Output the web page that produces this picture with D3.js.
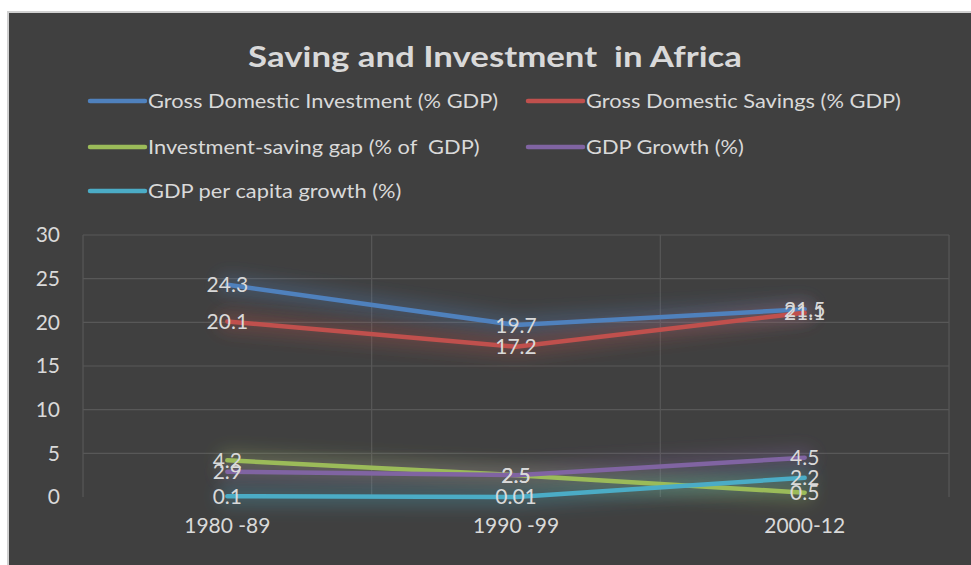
<!DOCTYPE html>
<html>
<head>
<meta charset="utf-8">
<script src="https://cdn.jsdelivr.net/npm/d3@7"></script>
<style>
  body { margin: 0; background: #ffffff; }
  svg { display: block; }
  text { font-family: Lato, "Open Sans", sans-serif; white-space: pre; }
</style>
</head>
<body>
<svg id="chart" width="971" height="565"></svg>
<script>
// chart data
const periods = ["1980 -89", "1990 -99", "2000-12"];
const investment = [24.3, 19.7, 21.5];
const savings = [20.1, 17.2, 21.1];
const gap = [4.2, 2.5, 0.5];
const gdpGrowth = [2.9, 2.5, 4.5];
const perCapita = [0.1, 0.01, 2.2];
const yTicks = [0, 5, 10, 15, 20, 25, 30];

const seriesNames = [
  "Gross Domestic Investment (% GDP)",
  "Gross Domestic Savings (% GDP)",
  "Investment-saving gap (% of  GDP)",
  "GDP Growth (%)",
  "GDP per capita growth (%)"
];
const seriesColors = ["#4f81bd", "#c0504d", "#9bbb59", "#8064a2", "#4bacc6"];

const series = [investment, savings, gap, gdpGrowth, perCapita].map(function(vals, i){
  return {name: seriesNames[i], color: seriesColors[i], values: vals};
});

const textColor = "#d9d9d9";
const svg = d3.select("#chart");

// panel
svg.append("rect")
  .attr("x", 8).attr("y", 12)
  .attr("width", 980).attr("height", 570)
  .attr("fill", "#404040")
  .attr("stroke", "#d0d0d0").attr("stroke-width", 2);

const defs = svg.append("defs");
const glow = defs.append("filter").attr("id", "glow")
  .attr("x", "-20%").attr("y", "-300%").attr("width", "140%").attr("height", "700%");
glow.append("feGaussianBlur").attr("stdDeviation", 8);

const x = d3.scaleBand().domain(periods).range([83, 949]).padding(0);
const y = d3.scaleLinear().domain([0, 30]).range([497, 235]);

// gridlines
const grid = svg.append("g");
grid.selectAll("line.h").data(yTicks.filter(function(d){ return d > 0; }))
  .enter().append("line").attr("class", "h")
  .attr("x1", 83).attr("x2", 949)
  .attr("y1", function(d){ return y(d); }).attr("y2", function(d){ return y(d); })
  .attr("stroke", "#585858").attr("stroke-width", 1.2);
const bounds = periods.map(function(p){ return x(p); }).concat([949]);
grid.selectAll("line.v").data(bounds)
  .enter().append("line").attr("class", "v")
  .attr("x1", function(d){ return d; }).attr("x2", function(d){ return d; })
  .attr("y1", y(30)).attr("y2", y(0))
  .attr("stroke", "#585858").attr("stroke-width", 1.2);

// y axis labels
const yAxis = svg.append("g").attr("transform", "translate(68,0)")
  .call(d3.axisLeft(y).tickValues(yTicks).tickSize(0).tickPadding(8));
yAxis.select(".domain").remove();
yAxis.selectAll("text").attr("fill", textColor).attr("font-size", 21);

// x axis labels
const xAxis = svg.append("g").attr("transform", "translate(0," + y(0) + ")")
  .call(d3.axisBottom(x).tickSize(0).tickPadding(21));
xAxis.select(".domain").remove();
xAxis.selectAll("text").attr("fill", textColor).attr("font-size", 21);

const line = d3.line()
  .x(function(d, i){ return x(periods[i]) + x.bandwidth() / 2; })
  .y(function(d){ return y(d); });

// glow halos
svg.append("g").selectAll("path").data(series).enter().append("path")
  .attr("d", function(d){ return line(d.values); })
  .attr("fill", "none")
  .attr("stroke", function(d){ return d.color; })
  .attr("stroke-width", 20)
  .attr("stroke-opacity", 0.28)
  .attr("stroke-linecap", "round")
  .attr("filter", "url(#glow)");

// lines
svg.append("g").selectAll("path").data(series).enter().append("path")
  .attr("d", function(d){ return line(d.values); })
  .attr("fill", "none")
  .attr("stroke", function(d){ return d.color; })
  .attr("stroke-width", 4.5)
  .attr("stroke-linecap", "round")
  .attr("stroke-linejoin", "round");

// data labels
const labels = svg.append("g");
series.forEach(function(s){
  labels.selectAll(null).data(s.values).enter().append("text")
    .attr("x", function(d, i){ return x(periods[i]) + x.bandwidth() / 2; })
    .attr("y", function(d){ return y(d); })
    .attr("dy", "0.36em")
    .attr("text-anchor", "middle")
    .attr("font-size", 21)
    .attr("fill", textColor)
    .text(function(d){ return d; });
});

// title
svg.append("text")
  .attr("transform", "translate(495,67) scale(1.2,1)")
  .attr("text-anchor", "middle")
  .attr("font-size", 29).attr("font-weight", "bold")
  .attr("fill", textColor)
  .text("Saving and Investment  in Africa");

// legend
const legendPos = [[90, 101], [528, 101], [90, 147], [528, 147], [90, 191]];
const legend = svg.append("g").selectAll("g").data(series).enter().append("g")
  .attr("transform", function(d, i){ return "translate(" + legendPos[i][0] + "," + legendPos[i][1] + ")"; });
legend.append("line")
  .attr("x1", 0).attr("x2", 55)
  .attr("stroke", function(d){ return d.color; })
  .attr("stroke-width", 4.5).attr("stroke-linecap", "round");
legend.append("text")
  .attr("transform", "translate(58,0) scale(1.18,1)")
  .attr("dy", "0.36em")
  .attr("font-size", 18.5).attr("fill", textColor)
  .text(function(d){ return d.name; });
</script>
</body>
</html>
